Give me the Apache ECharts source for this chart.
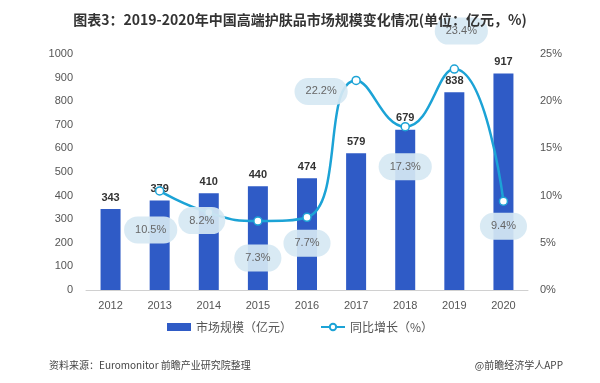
<!DOCTYPE html>
<html><head><meta charset="utf-8">
<script src="https://cdn.jsdelivr.net/npm/echarts@6/dist/echarts.min.js"></script>
<style>html,body{margin:0;padding:0;background:#fff}#c{width:600px;height:383px}</style>
</head><body><div id="c"></div>
<script>
var years = ['2012','2013','2014','2015','2016','2017','2018','2019','2020'];
var marketSize = [343,379,410,440,474,579,679,838,917];
var growth = [null,10.5,8.2,7.3,7.7,22.2,17.3,23.4,9.4];
var growthLabelOffsets = [null,[-9,39],[-7,8],[0,37],[0,26],[-35,11],[0,40],[7,-38],[0,25]];
var leftTicks = [0,100,200,300,400,500,600,700,800,900,1000];
var rightTicks = [0,5,10,15,20,25];

var FONT = '"Liberation Sans","Noto Sans CJK SC",sans-serif';
var CJK = '"Noto Sans CJK SC","Noto Sans",sans-serif';
var chart = echarts.init(document.getElementById('c'));
var lineData = growth.map(function(v,i){
  if(v===null) return null;
  var o = growthLabelOffsets[i];
  return {value:v, label:{offset:o}};
});
chart.setOption({
  backgroundColor:'#fff',
  animation:false,
  title:[
    {text:'图表3：2019-2020年中国高端护肤品市场规模变化情况(单位：亿元，%)',left:'center',top:8,
     textStyle:{fontSize:14,fontWeight:'bold',color:'#333',fontFamily:CJK}},
    {text:'资料来源：Euromonitor 前瞻产业研究院整理',left:44,top:355,
     textStyle:{fontSize:10,fontWeight:'normal',color:'#444',fontFamily:CJK}},
    {text:'@前瞻经济学人APP',right:32,top:355,
     textStyle:{fontSize:10,fontWeight:'normal',color:'#444',fontFamily:CJK}}
  ],
  legend:{
    bottom:45,left:'center',itemGap:28,itemWidth:24,itemHeight:8,
    textStyle:{fontSize:12,color:'#555',fontFamily:CJK},
    data:[{name:'市场规模（亿元）',icon:'rect'},{name:'同比增长（%）'}]
  },
  grid:{left:86,right:72,top:54,bottom:93},
  xAxis:{type:'category',data:years,
    axisLine:{lineStyle:{color:'#d0d0d0'}},axisTick:{show:false},
    axisLabel:{color:'#555',fontSize:11,margin:10,fontFamily:FONT}},
  yAxis:[
    {type:'value',min:0,max:1000,interval:100,splitLine:{show:false},
     axisLine:{show:false},axisTick:{show:false},
     axisLabel:{color:'#555',fontSize:11,margin:13,fontFamily:FONT,formatter:function(v){return String(v);}}},
    {type:'value',min:0,max:25,interval:5,splitLine:{show:false},
     axisLine:{show:false},axisTick:{show:false},
     axisLabel:{color:'#555',fontSize:11,margin:12,formatter:'{value}%',fontFamily:FONT}}
  ],
  series:[
    {name:'市场规模（亿元）',type:'bar',data:marketSize,barWidth:20,
     itemStyle:{color:'#2f5bc6'},
     label:{show:true,position:'top',distance:6,fontSize:11,fontWeight:'bold',color:'#333',fontFamily:FONT},
     z:2},
    {name:'同比增长（%）',type:'line',yAxisIndex:1,data:lineData,smooth:0.5,
     symbol:'circle',symbolSize:8,showSymbol:true,
     lineStyle:{color:'#1ca3d6',width:2.5},
     itemStyle:{color:'#ffffff',borderColor:'#1ca3d6',borderWidth:1.5},
     label:{show:true,position:'inside',formatter:function(p){return p.value.toFixed(1)+'%';},
       fontSize:11,color:'#666',backgroundColor:'rgba(214,232,243,0.92)',
       padding:[8,11],borderRadius:16,fontFamily:FONT},
     z:3}
  ]
});
</script></body></html>
